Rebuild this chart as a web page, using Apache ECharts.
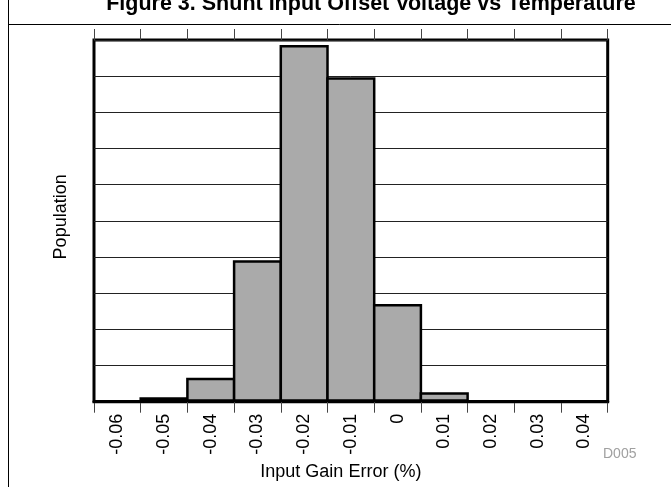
<!DOCTYPE html>
<html>
<head>
<meta charset="utf-8">
<script src="https://cdn.jsdelivr.net/npm/echarts@6/dist/echarts.min.js"></script>
<style>
html,body{margin:0;padding:0;background:#fff;}
#chart{width:671px;height:487px;}
</style>
</head>
<body>
<div id="chart"></div>
<script>
const categories = ['-0.06','-0.05','-0.04','-0.03','-0.02','-0.01','0','0.01','0.02','0.03','0.04'];
const population = [0, 0.12, 0.66, 3.91, 9.86, 8.97, 2.70, 0.26, 0, 0, 0];
const titleText = 'Figure 3. Shunt Input Offset Voltage vs Temperature';
const xName = 'Input Gain Error (%)';
const yName = 'Population';
const codeText = 'D005';

const FONT = '"Liberation Sans", Arial, sans-serif';
const GRID_L = 94, GRID_R = 63.3, W = 671;
const BORDER = 2.5;
const bandWidth = (W - GRID_L - GRID_R) / categories.length;

const chart = echarts.init(document.getElementById('chart'), null, {renderer: 'canvas'});
chart.setOption({
  animation: false,
  backgroundColor: '#fff',
  grid: {left: GRID_L, right: GRID_R, top: 40, bottom: 85.3, show: true, borderColor: '#000', borderWidth: 3, backgroundColor: 'transparent'},
  graphic: [
    {type: 'line', shape: {x1: 8.5, y1: 0, x2: 8.5, y2: 487}, style: {stroke: '#000', lineWidth: 1}},
    {type: 'line', shape: {x1: 8.5, y1: 24.5, x2: 671, y2: 24.5}, style: {stroke: '#000', lineWidth: 1}},
    {type: 'text', x: 371, y: 4.5, style: {text: titleText, font: 'bold 21.5px ' + FONT, fill: '#000', align: 'center', verticalAlign: 'middle'}},
    {type: 'text', x: 603, y: 454.5, style: {text: codeText, font: '14px ' + FONT, fill: '#a0a0a0', align: 'left', verticalAlign: 'middle'}}
  ],
  xAxis: [
    {
      type: 'category', data: categories, position: 'bottom',
      axisLine: {show: true, lineStyle: {color: '#000', width: 3}},
      axisTick: {show: true, interval: 0, length: 11, lineStyle: {color: '#444', width: 1}},
      axisLabel: {show: true, interval: 0, rotate: 90, margin: 12, color: '#000', fontSize: 18, fontFamily: FONT},
      name: xName, nameLocation: 'middle', nameGap: 59,
      nameTextStyle: {color: '#000', fontSize: 18, fontFamily: FONT, padding: [0, 20, 0, 0]},
      splitLine: {show: false}
    },
    {
      type: 'category', data: categories, position: 'top',
      axisLine: {show: false},
      axisTick: {show: true, interval: 0, length: 11, lineStyle: {color: '#444', width: 1}},
      axisLabel: {show: false},
      splitLine: {show: false}
    }
  ],
  yAxis: {
    type: 'value', min: 0, max: 10, interval: 1,
    axisLine: {show: false}, axisTick: {show: false}, axisLabel: {show: false},
    splitLine: {show: true, lineStyle: {color: '#222', width: 1}},
    name: yName, nameLocation: 'middle', nameGap: 24, nameRotate: 90,
    nameTextStyle: {color: '#000', fontSize: 18, fontFamily: FONT, padding: [0, 0, 0, 8]}
  },
  series: [{
    type: 'bar', data: population, xAxisIndex: 0,
    barWidth: bandWidth + BORDER, barGap: '-100%',
    itemStyle: {color: '#aaaaaa', borderColor: '#000', borderWidth: BORDER}
  }]
});
</script>
</body>
</html>
